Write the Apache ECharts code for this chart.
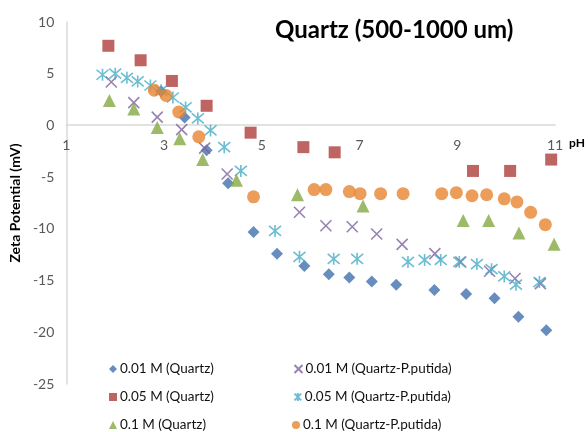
<!DOCTYPE html>
<html>
<head>
<meta charset="utf-8">
<script src="https://cdn.jsdelivr.net/npm/echarts@6/dist/echarts.min.js"></script>
<style>html,body{margin:0;padding:0;background:#fff}#c{width:588px;height:432px}</style>
</head>
<body>
<div id="c"></div>
<script>
var seriesNames = ['0.01 M (Quartz)', '0.01 M (Quartz-P.putida)', '0.05 M (Quartz)', '0.05 M (Quartz-P.putida)', '0.1 M (Quartz)', '0.1 M (Quartz-P.putida)'];

var phQ001 = [2.94, 3.42, 3.87, 4.31, 4.83, 5.31, 5.87, 6.37, 6.79, 7.25, 7.75, 8.53, 9.18, 9.76, 10.25, 10.82];
var zetaQ001 = [3.3, 0.77, -2.4, -5.6, -10.3, -12.4, -13.6, -14.4, -14.7, -15.1, -15.4, -15.9, -16.3, -16.7, -18.5, -19.8];

var phP001 = [1.92, 2.38, 2.86, 3.36, 3.83, 4.29, 5.77, 6.31, 6.85, 7.35, 7.87, 8.54, 9.07, 9.66, 10.18, 10.70];
var zetaP001 = [4.2, 2.2, 0.8, -0.4, -2.2, -4.7, -8.4, -9.7, -9.8, -10.5, -11.5, -12.4, -13.2, -14.1, -14.8, -15.3];

var phQ005 = [1.86, 2.52, 3.16, 3.87, 4.77, 5.85, 6.49, 9.32, 10.08, 10.92];
var zetaQ005 = [7.7, 6.3, 4.3, 1.9, -0.7, -2.1, -2.6, -4.4, -4.4, -3.3];

var phP005 = [1.74, 2.00, 2.24, 2.46, 2.72, 2.94, 3.18, 3.44, 3.69, 3.95, 4.23, 4.57, 5.27, 5.77, 6.47, 6.95, 7.99, 8.33, 8.66, 9.04, 9.40, 9.70, 9.96, 10.20, 10.68];
var zetaP005 = [4.9, 5.0, 4.6, 4.25, 3.86, 3.4, 2.7, 1.74, 0.68, -0.48, -2.1, -4.4, -10.2, -12.7, -12.9, -12.9, -13.2, -13.0, -13.0, -13.2, -13.4, -13.9, -14.6, -15.4, -15.15];

var phQ01 = [1.88, 2.38, 2.86, 3.32, 3.79, 4.48, 5.73, 7.07, 9.12, 9.64, 10.26, 10.98];
var zetaQ01 = [2.4, 1.6, -0.2, -1.3, -3.3, -5.3, -6.7, -7.8, -9.2, -9.2, -10.4, -11.5];

var phP01 = [2.80, 3.04, 3.30, 3.71, 4.83, 6.07, 6.31, 6.79, 7.01, 7.43, 7.89, 8.68, 8.98, 9.30, 9.60, 9.96, 10.22, 10.50, 10.80];
var zetaP01 = [3.4, 2.9, 1.3, -1.1, -6.9, -6.2, -6.2, -6.4, -6.6, -6.6, -6.6, -6.6, -6.5, -6.8, -6.7, -7.1, -7.4, -8.4, -9.6];

var xTickLabels = ['1', '3', '5', '7', '9', '11'];

function pairs(xs, ys) { return xs.map(function (x, i) { return [x, ys[i]]; }); }

var FONT = 'Lato, "Liberation Sans", sans-serif';
var xPath = 'path://M0,0L10,10M10,0L0,10';
var starPath = 'path://M0,0L10,10M10,0L0,10M5,-1L5,11';

// legend placement: [left, top] for each series name
var legendSlots = [[109, 362], [292, 362], [109, 390], [292, 390], [109, 418], [292, 418]];
var legends = seriesNames.map(function (n, i) {
  return {
    data: [n], left: legendSlots[i][0], top: legendSlots[i][1], padding: 0,
    itemWidth: 8, itemHeight: 8, itemGap: 0,
    textStyle: {fontFamily: FONT, fontSize: 13.5, color: '#111', lineHeight: 14, padding: [0, 0, 0, -2]}
  };
});

var chart = echarts.init(document.getElementById('c'), null, {renderer: 'canvas'});
chart.setOption({
  animation: false,
  textStyle: {fontFamily: FONT},
  title: {
    text: 'Quartz (500-1000 um)',
    left: 270, top: 13,
    textStyle: {fontFamily: FONT, fontSize: 24, fontWeight: 'bold', color: '#000'}
  },
  grid: {left: 64, right: 26, top: 22, bottom: 48, containLabel: false},
  xAxis: {
    type: 'value', min: 1, max: 11, interval: 1, position: 'bottom', offset: -259,
    name: 'pH', nameLocation: 'end', nameGap: 4,
    nameTextStyle: {fontFamily: FONT, fontSize: 12, fontWeight: 'bold', color: '#000', verticalAlign: 'top', padding: [12, 0, 0, 0]},
    axisLine: {onZero: false, lineStyle: {color: '#D9D9D9', width: 1.5}},
    axisTick: {show: false},
    splitLine: {show: false},
    axisLabel: {
      color: '#595959', fontSize: 14, fontFamily: FONT, margin: 13,
      formatter: function (v) { var s = String(Math.round(v)); return xTickLabels.indexOf(s) >= 0 ? s : ''; }
    }
  },
  yAxis: {
    type: 'value', min: -25, max: 10, interval: 5,
    name: 'Zeta Potential (mV)', nameLocation: 'middle', nameGap: 38, nameRotate: 90,
    nameTextStyle: {fontFamily: FONT, fontSize: 14, fontWeight: 'bold', color: '#000'},
    axisLine: {show: true, onZero: false, lineStyle: {color: '#D9D9D9', width: 1.5}},
    axisTick: {show: false},
    splitLine: {show: false},
    axisLabel: {color: '#595959', fontSize: 14, fontFamily: FONT, margin: 12}
  },
  legend: legends,
  series: [
    {name: seriesNames[0], type: 'scatter', symbol: 'diamond', symbolSize: 12,
     itemStyle: {color: '#4170AE'}, data: pairs(phQ001, zetaQ001)},
    {name: seriesNames[1], type: 'scatter', symbol: xPath, symbolSize: 11,
     itemStyle: {color: 'none', borderColor: '#7E62A0', borderWidth: 1.6}, data: pairs(phP001, zetaP001)},
    {name: seriesNames[2], type: 'scatter', symbol: 'rect', symbolSize: 12,
     itemStyle: {color: '#AE3E3C'}, data: pairs(phQ005, zetaQ005)},
    {name: seriesNames[3], type: 'scatter', symbol: starPath, symbolSize: 12,
     itemStyle: {color: 'none', borderColor: '#46ADC6', borderWidth: 1.6}, data: pairs(phP005, zetaP005)},
    {name: seriesNames[4], type: 'scatter', symbol: 'triangle', symbolSize: 13,
     itemStyle: {color: '#84A944'}, data: pairs(phQ01, zetaQ01)},
    {name: seriesNames[5], type: 'scatter', symbol: 'circle', symbolSize: 13,
     itemStyle: {color: '#E6842F'}, data: pairs(phP01, zetaP01)}
  ]
});
</script>
</body>
</html>
